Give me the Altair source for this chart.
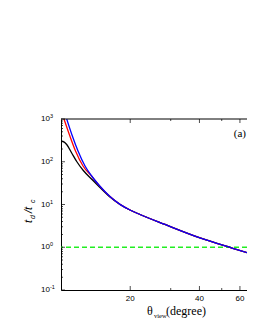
import altair as alt
import pandas as pd

# ---- data ----
theta_blue = [10.587, 11.164, 11.857, 12.719, 13.643, 14.775, 16.334, 18.057, 19.953, 22.058, 28.325, 40.22, 55.40, 69.74]
val_blue = [1000, 422.5, 178.4, 79.6, 45.2, 26.7, 15.3, 10.05, 7.43, 5.84, 3.41, 1.655, 0.96, 0.659]

theta_red = [10.305, 10.889, 11.564, 12.466, 13.643, 14.775, 16.334, 18.057, 19.953, 22.058, 28.325, 40.22, 55.40, 69.74]
val_red = [1000, 422.5, 178.4, 79.6, 45.0, 26.6, 15.3, 10.05, 7.43, 5.84, 3.41, 1.655, 0.96, 0.659]

theta_black = [10.0, 10.202, 10.587, 11.131, 11.703, 12.504, 13.643, 14.775, 16.334, 18.057, 19.953, 22.058, 28.325, 40.22, 55.40, 69.74]
val_black = [300.9, 297.6, 253.3, 160.2, 101.3, 62.4, 38.4, 25.0, 14.97, 10.0, 7.43, 5.84, 3.41, 1.655, 0.96, 0.659]

hline = [1]

y_major = [0.1, 1, 10, 100, 1000]
y_exp = ["-1", "0", "1", "2", "3"]
y_minor = [m * d for d in [0.1, 1, 10, 100] for m in range(2, 10)]
x_major = [20, 40, 60]
x_minor = [30, 50]

W, H = 186, 171
xs = alt.Scale(type="log", domain=[10, 64.4])
ys = alt.Scale(type="log", domain=[0.1, 1000])


def series(th, v):
    return pd.DataFrame({"theta": th, "v": v})


def line(df, color):
    return alt.Chart(df).mark_line(color=color, strokeWidth=1.3, clip=True, interpolate="monotone").encode(
        x=alt.X("theta:Q", scale=xs, axis=alt.Axis(domain=True, domainColor="black", ticks=False,
                                                  labels=False, grid=False, title=None)),
        y=alt.Y("v:Q", scale=ys, axis=alt.Axis(domain=True, domainColor="black", ticks=False,
                                              labels=False, grid=False, title=None)),
    )


green = alt.Chart(pd.DataFrame({"v": hline})).mark_rule(
    color="#22ee22", strokeDash=[5, 3], strokeWidth=1.3).encode(y=alt.Y("v:Q", scale=ys))

ymaj = pd.DataFrame({"v": y_major, "e": y_exp})
ymin = pd.DataFrame({"v": y_minor})
xmaj = pd.DataFrame({"t": x_major, "lab": [str(t) for t in x_major]})
xmin = pd.DataFrame({"t": x_minor})

ytick_major = alt.Chart(ymaj).mark_tick(orient="horizontal", size=4, thickness=1, color="black").encode(
    y=alt.Y("v:Q", scale=ys), x=alt.value(2))
ytick_minor = alt.Chart(ymin).mark_tick(orient="horizontal", size=2, thickness=1, color="black").encode(
    y=alt.Y("v:Q", scale=ys), x=alt.value(1))
ylab10 = alt.Chart(ymaj).mark_text(align="right", baseline="middle", font="Liberation Sans",
                                   fontSize=8, color="black").encode(
    y=alt.Y("v:Q", scale=ys), x=alt.value(-11), text=alt.value("10"))
ylabexp = alt.Chart(ymaj).mark_text(align="left", baseline="middle", font="Liberation Sans",
                                    fontSize=5.5, color="black", dy=-3).encode(
    y=alt.Y("v:Q", scale=ys), x=alt.value(-11), text="e:N")

xtick_bot_major = alt.Chart(xmaj).mark_tick(orient="vertical", size=4, thickness=1, color="black", clip=True).encode(
    x=alt.X("t:Q", scale=xs), y=alt.value(H - 2))
xtick_top_major = alt.Chart(xmaj).mark_tick(orient="vertical", size=4, thickness=1, color="black", clip=True).encode(
    x=alt.X("t:Q", scale=xs), y=alt.value(2))
xtick_bot_minor = alt.Chart(xmin).mark_tick(orient="vertical", size=2, thickness=1, color="black", clip=True).encode(
    x=alt.X("t:Q", scale=xs), y=alt.value(H - 1))
xtick_top_minor = alt.Chart(xmin).mark_tick(orient="vertical", size=2, thickness=1, color="black", clip=True).encode(
    x=alt.X("t:Q", scale=xs), y=alt.value(1))
xlab = alt.Chart(xmaj).mark_text(align="center", baseline="top", font="Liberation Sans",
                                 fontSize=8, color="black").encode(
    x=alt.X("t:Q", scale=xs), y=alt.value(H + 5), text="lab:N")

top_line = alt.Chart(pd.DataFrame({"a": [0]})).mark_rule(color="black", strokeWidth=1).encode(
    x=alt.value(0), x2=alt.value(W + 20), y=alt.value(0))


def txt(s, x, y, size, font, style="normal", angle=0, align="left"):
    return alt.Chart(pd.DataFrame({"a": [0]})).mark_text(
        text=s, align=align, baseline="alphabetic", font=font, fontSize=size,
        fontStyle=style, angle=angle, color="black").encode(x=alt.value(x), y=alt.value(y))


titles = [
    txt("\u03b8", 86, 196, 12, "Liberation Serif"),
    txt("view", 93, 199, 6.5, "Liberation Serif"),
    txt("(degree)", 105, 196, 12, "Liberation Serif"),
    txt("t", -29, 104, 11, "Liberation Sans", "italic", 270),
    txt("d", -26, 100, 7, "Liberation Sans", "italic", 270),
    txt("/t", -29, 94, 11, "Liberation Sans", "italic", 270),
    txt("c", -26, 84, 7, "Liberation Sans", "italic", 270),
    txt("(a)", 185, 18, 11, "Liberation Serif", align="right"),
]

chart = alt.layer(
    green,
    line(series(theta_black, val_black), "black"),
    line(series(theta_red, val_red), "#ff0000"),
    line(series(theta_blue, val_blue), "#0000ff"),
    top_line,
    ytick_major, ytick_minor, ylab10, ylabexp,
    xtick_bot_major, xtick_top_major, xtick_bot_minor, xtick_top_minor, xlab,
    *titles,
).properties(
    width=W, height=H,
    autosize=alt.AutoSizeParams(type="none"),
    padding={"left": 53, "top": 111, "right": 0, "bottom": 30},
).configure_view(stroke=None).configure_axis(domainWidth=1)

chart.save("out.html", embed_options={"renderer": "svg", "actions": False})
